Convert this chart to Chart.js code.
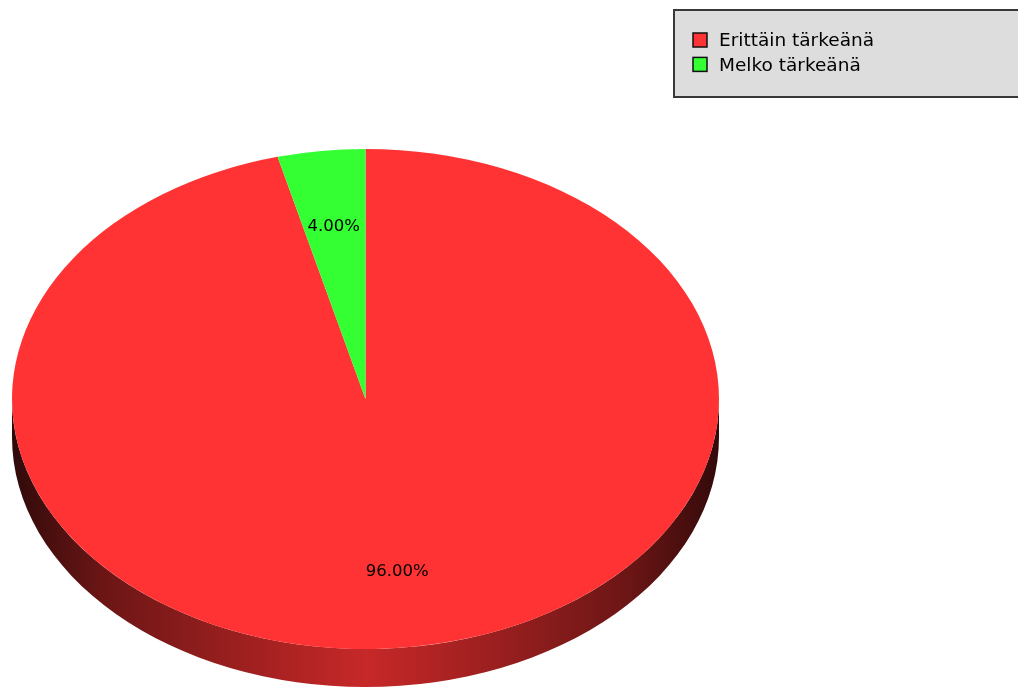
<!DOCTYPE html>
<html>
<head>
<meta charset="utf-8">
<script src="https://cdn.jsdelivr.net/npm/chart.js@4/dist/chart.umd.min.js"></script>
<style>
  html, body { margin: 0; padding: 0; background: #ffffff; }
  canvas { display: block; }
</style>
</head>
<body>
<canvas id="pie" width="1018" height="688"></canvas>
<script>
// Answer categories and their shares (percent)
const categories = ['Erittäin tärkeänä', 'Melko tärkeänä'];
const shares = [96, 4];
const sliceColors = ['#ff3333', '#33ff33'];

// Tilted-disc geometry: ellipse of the top face and the thickness of the rim
const DISC = { cx: 365.5, cy: 399, rx: 353.5, ry: 250, depth: 38 };
const LABEL_FONT = '16.5px "DejaVu Sans", sans-serif';
const LEGEND_FONT = '18.5px "DejaVu Sans", sans-serif';

function hexToRgb(hex) {
  const n = parseInt(hex.slice(1), 16);
  return [(n >> 16) & 255, (n >> 8) & 255, n & 255];
}
function scaled(rgb, f) {
  return 'rgb(' + rgb.map(v => Math.round(v * f)).join(',') + ')';
}

// Rim of the disc: drawn under the top face, only where it faces the viewer
const rimPlugin = {
  id: 'rim',
  beforeDatasetsDraw(chart) {
    const ctx = chart.ctx;
    const meta = chart.getDatasetMeta(0);
    const { cx, cy, rx, ry, depth } = DISC;
    meta.data.forEach((arc, i) => {
      const a0 = Math.max(arc.startAngle, 0);
      const a1 = Math.min(arc.endAngle, Math.PI);
      if (a1 <= a0) return;
      const rgb = hexToRgb(sliceColors[i]);
      const g = ctx.createLinearGradient(cx - rx, 0, cx + rx, 0);
      g.addColorStop(0.0, scaled(rgb, 0.19));
      g.addColorStop(0.125, scaled(rgb, 0.42));
      g.addColorStop(0.25, scaled(rgb, 0.54));
      g.addColorStop(0.34, scaled(rgb, 0.63));
      g.addColorStop(0.5, scaled(rgb, 0.78));
      g.addColorStop(0.66, scaled(rgb, 0.63));
      g.addColorStop(0.75, scaled(rgb, 0.54));
      g.addColorStop(0.875, scaled(rgb, 0.42));
      g.addColorStop(1.0, scaled(rgb, 0.2));
      ctx.save();
      ctx.beginPath();
      ctx.ellipse(cx, cy, rx, ry, 0, a0, a1, false);
      ctx.lineTo(cx + rx * Math.cos(a1), cy + depth + ry * Math.sin(a1));
      ctx.ellipse(cx, cy + depth, rx, ry, 0, a1, a0, true);
      ctx.closePath();
      ctx.fillStyle = g;
      ctx.fill();
      ctx.restore();
    });

    // Squash the circular pie into the ellipse of the top face
    const first = meta.data[0];
    const R = first.outerRadius;
    ctx.save();
    ctx.translate(cx, cy);
    ctx.scale(rx / R, ry / R);
    ctx.translate(-first.x, -first.y);
  },
  afterDatasetsDraw(chart) {
    const ctx = chart.ctx;
    ctx.restore();

    // Percentage labels placed along each slice's middle angle
    const meta = chart.getDatasetMeta(0);
    const values = chart.data.datasets[0].data;
    const total = values.reduce((a, b) => a + b, 0);
    const { cx, cy, rx, ry } = DISC;
    ctx.save();
    ctx.font = LABEL_FONT;
    ctx.fillStyle = '#000000';
    ctx.textAlign = 'center';
    ctx.textBaseline = 'middle';
    meta.data.forEach((arc, i) => {
      const mid = (arc.startAngle + arc.endAngle) / 2;
      const x = cx + Math.cos(mid) * rx * 0.715;
      const y = cy + Math.sin(mid) * ry * 0.695;
      ctx.fillText((values[i] / total * 100).toFixed(2) + '%', x, y);
    });
    ctx.restore();
  }
};

// Boxed legend in the upper right corner
const boxLegendPlugin = {
  id: 'boxLegend',
  afterDraw(chart) {
    const ctx = chart.ctx;
    ctx.save();
    ctx.fillStyle = '#dddddd';
    ctx.fillRect(674, 10, 360, 87);
    ctx.lineWidth = 2;
    ctx.strokeStyle = '#383838';
    ctx.strokeRect(674, 10, 360, 87);
    ctx.font = LEGEND_FONT;
    ctx.textBaseline = 'alphabetic';
    chart.data.labels.forEach((label, i) => {
      const top = 33 + i * 24.4;
      ctx.fillStyle = chart.data.datasets[0].backgroundColor[i];
      ctx.fillRect(693, top, 14, 14);
      ctx.lineWidth = 1.5;
      ctx.strokeStyle = '#111111';
      ctx.strokeRect(693, top, 14, 14);
      ctx.fillStyle = '#000000';
      ctx.fillText(label, 719, 46.3 + i * 24.4);
    });
    ctx.restore();
  }
};

new Chart(document.getElementById('pie'), {
  type: 'pie',
  data: {
    labels: categories,
    datasets: [{
      data: shares,
      backgroundColor: sliceColors,
      borderWidth: 0
    }]
  },
  options: {
    responsive: false,
    animation: false,
    events: [],
    rotation: 0,
    layout: { padding: 0 },
    plugins: {
      legend: { display: false },
      tooltip: { enabled: false }
    }
  },
  plugins: [rimPlugin, boxLegendPlugin]
});
</script>
</body>
</html>
